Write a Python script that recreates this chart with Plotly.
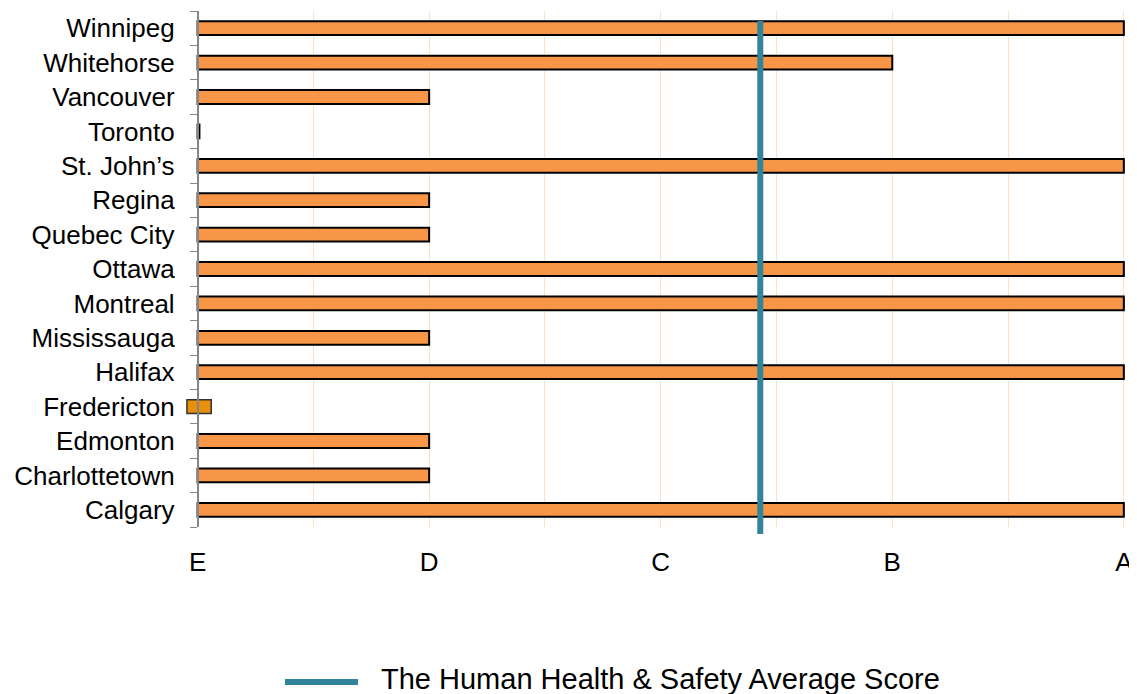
import plotly.graph_objects as go

# cidades (de baixo para cima) e nota de 0 (E) a 4 (A)
cities = ['Calgary', 'Charlottetown', 'Edmonton', 'Fredericton', 'Halifax',
          'Mississauga', 'Montreal', 'Ottawa', 'Quebec City', 'Regina',
          'St. John’s', 'Toronto', 'Vancouver', 'Whitehorse', 'Winnipeg']
scores = [4, 1, 1, None, 4, 1, 4, 4, 1, 1, 4, 0.008, 1, 3, 4]

# Fredericton aparece como uma barra curta em torno de E
fred_base = -0.046
fred_len = 0.105

grade_vals = [0, 1, 2, 3, 4]
grade_text = ['E', 'D', 'C', 'B', 'A']

avg_score = 2.43
avg_name = 'The Human Health &amp; Safety Average Score'

# a página tem margem de 8px no body, então desconta isso
OFF = 8
W, H = 1137 - OFF, 694 - OFF
L, R, T, B = 186 - OFF, 12, 11 - OFF, 167
pw = W - L - R
ph = H - T - B


def px_x(p):
    return (p - OFF - L) / pw


def px_y(p):
    return (T + ph - (p - OFF)) / ph


fig = go.Figure()
fig.add_trace(go.Bar(
    x=scores, y=cities, orientation='h', width=0.4,
    marker=dict(color='#f79646', line=dict(color='#000000', width=2)),
    showlegend=False, hoverinfo='x+y'
))
fig.add_trace(go.Bar(
    x=[fred_len], y=['Fredericton'], base=[fred_base], orientation='h', width=0.4,
    marker=dict(color='#e8900c', line=dict(color='#333333', width=1.5)),
    showlegend=False
))

# linha da média
fig.add_shape(type='line', xref='x', yref='paper', x0=avg_score, x1=avg_score,
              y0=px_y(534), y1=px_y(21), line=dict(color='#31849b', width=6))

# legenda manual
fig.add_shape(type='line', xref='paper', yref='paper',
              x0=px_x(285), x1=px_x(358), y0=px_y(682), y1=px_y(682),
              line=dict(color='#31849b', width=6))
fig.add_annotation(xref='paper', yref='paper', x=px_x(379), y=px_y(679),
                   text=avg_name, showarrow=False, xanchor='left', yanchor='middle',
                   font=dict(size=29, color='#000000'))

y0_pos = (0 - (-0.05)) / (4.005 + 0.05)

fig.update_layout(
    width=W, height=H,
    margin=dict(l=L, r=R, t=T, b=B, autoexpand=False),
    plot_bgcolor='white', paper_bgcolor='white',
    barmode='overlay',
    font=dict(family='Arial, Liberation Sans, sans-serif', size=26, color='#000000'),
    xaxis=dict(
        range=[-0.05, 4.005], tickvals=grade_vals, ticktext=grade_text,
        showgrid=True, gridcolor='#fde0c6', gridwidth=1,
        minor=dict(dtick=0.5, tick0=0, showgrid=True, gridcolor='#fde0c6', gridwidth=1),
        zeroline=False, showline=False, ticks='', ticklabelstandoff=17,
        tickfont=dict(size=26), automargin=False
    ),
    yaxis=dict(
        anchor='free', position=y0_pos, automargin=False,
        showline=True, linecolor='#868686', linewidth=1.5,
        ticks='outside', ticklen=7, tickcolor='#868686', tickson='boundaries',
        showgrid=False, ticklabelstandoff=17, tickfont=dict(size=26),
        range=[-0.5, 14.5]
    ),
)

fig.write_html('out.html')
